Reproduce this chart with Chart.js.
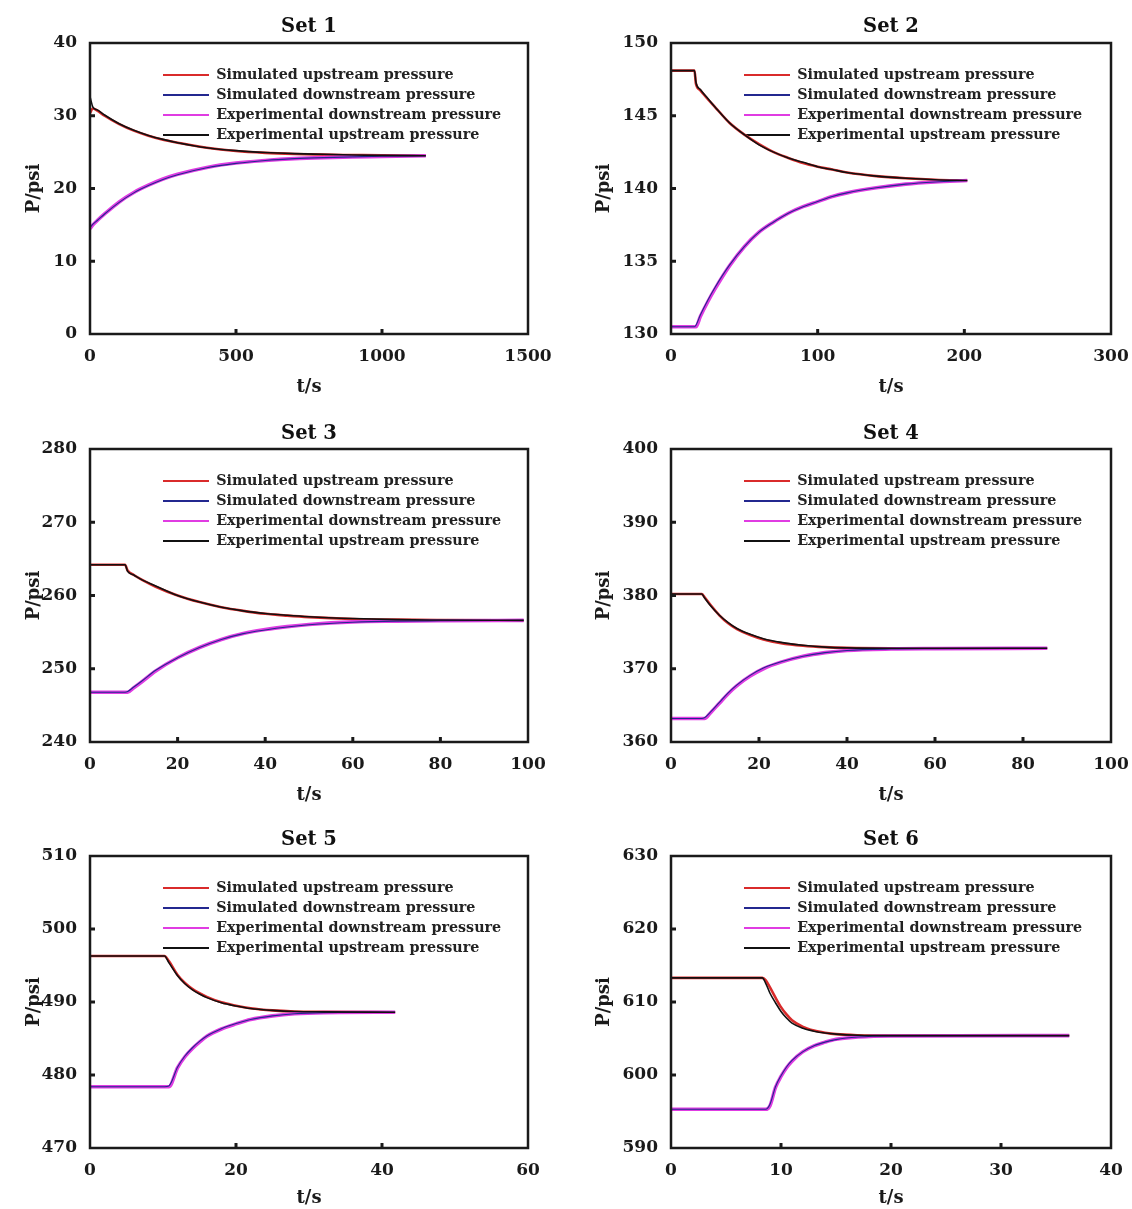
<!DOCTYPE html>
<html>
<head>
<meta charset="utf-8">
<script src="https://cdn.jsdelivr.net/npm/chart.js@4.4.1/dist/chart.umd.min.js"></script>
<style>
    html, body { margin: 0; padding: 0; background: #fff; overflow: hidden; }
    #page { position: relative; width: 1132px; height: 1209px; overflow: hidden; }
    .panel { position: absolute; }
</style>
</head>
<body>
<div id="page"></div>
<script>
// series names (legend order)
const seriesLabels = [
    'Simulated upstream pressure',
    'Simulated downstream pressure',
    'Experimental downstream pressure',
    'Experimental upstream pressure'
];

// Set 1
const set1Time     = [0, 10, 25, 50, 100, 150, 200, 250, 300, 400, 500, 600, 700, 800, 900, 1000, 1150];
const set1SimUp    = [30.4, 31.0, 30.7, 30.0, 28.85, 27.95, 27.25, 26.7, 26.3, 25.6, 25.15, 24.9, 24.75, 24.65, 24.6, 24.55, 24.5];
const set1SimDown  = [14.6, 15.1, 15.6, 16.5, 18.1, 19.4, 20.4, 21.25, 21.9, 22.85, 23.45, 23.85, 24.1, 24.25, 24.35, 24.45, 24.5];
const set1ExpDown  = [14.5, 15.0, 15.6, 16.5, 18.15, 19.45, 20.45, 21.3, 21.95, 22.9, 23.5, 23.85, 24.1, 24.25, 24.35, 24.4, 24.5];
const set1ExpUp    = [32.6, 31.2, 30.8, 30.1, 28.9, 28.0, 27.3, 26.75, 26.3, 25.6, 25.2, 24.95, 24.8, 24.7, 24.6, 24.55, 24.5];
const set1XTicks   = [0, 500, 1000, 1500];
const set1YTicks   = [0, 10, 20, 30, 40];

// Set 2
const set2Time     = [0, 16, 17, 20, 25, 30, 40, 50, 60, 70, 80, 90, 100, 110, 120, 140, 160, 180, 202];
const set2SimUp    = [148.1, 148.1, 147.2, 146.75, 146.15, 145.6, 144.5, 143.7, 143.05, 142.5, 142.1, 141.75, 141.5, 141.3, 141.1, 140.85, 140.7, 140.6, 140.55];
const set2SimDown  = [130.5, 130.5, 130.6, 131.3, 132.3, 133.2, 134.75, 136.0, 137.0, 137.7, 138.3, 138.75, 139.1, 139.45, 139.7, 140.05, 140.3, 140.45, 140.55];
const set2ExpDown  = [130.5, 130.5, 130.5, 131.2, 132.2, 133.1, 134.7, 136.0, 137.0, 137.7, 138.3, 138.75, 139.1, 139.45, 139.7, 140.05, 140.3, 140.45, 140.55];
const set2ExpUp    = [148.1, 148.1, 147.3, 146.8, 146.2, 145.6, 144.5, 143.7, 143.0, 142.5, 142.1, 141.8, 141.5, 141.3, 141.1, 140.85, 140.7, 140.6, 140.55];
const set2XTicks   = [0, 100, 200, 300];
const set2YTicks   = [130, 135, 140, 145, 150];

// Set 3
const set3Time     = [0, 8, 8.6, 10, 12, 15, 20, 25, 30, 35, 40, 45, 50, 60, 70, 80, 99];
const set3SimUp    = [264.2, 264.2, 263.4, 262.8, 262.1, 261.2, 260.0, 259.1, 258.4, 257.9, 257.5, 257.25, 257.05, 256.8, 256.7, 256.65, 256.6];
const set3SimDown  = [246.8, 246.8, 246.9, 247.5, 248.4, 249.8, 251.5, 252.9, 254.0, 254.8, 255.3, 255.7, 256.0, 256.35, 256.5, 256.55, 256.6];
const set3ExpDown  = [246.8, 246.8, 246.8, 247.4, 248.3, 249.7, 251.5, 252.9, 254.0, 254.8, 255.35, 255.75, 256.05, 256.4, 256.5, 256.55, 256.6];
const set3ExpUp    = [264.2, 264.2, 263.3, 262.8, 262.1, 261.3, 260.0, 259.1, 258.4, 257.9, 257.55, 257.3, 257.1, 256.85, 256.7, 256.65, 256.6];
const set3XTicks   = [0, 20, 40, 60, 80, 100];
const set3YTicks   = [240, 250, 260, 270, 280];

// Set 4
const set4Time     = [0, 7, 7.6, 9, 11, 13, 15, 18, 21, 25, 30, 35, 40, 50, 60, 85.5];
const set4SimUp    = [380.2, 380.2, 379.8, 378.7, 377.3, 376.2, 375.4, 374.6, 374.0, 373.5, 373.15, 372.95, 372.85, 372.8, 372.8, 372.8];
const set4SimDown  = [363.2, 363.2, 363.3, 364.1, 365.4, 366.7, 367.8, 369.1, 370.1, 370.95, 371.7, 372.2, 372.5, 372.7, 372.75, 372.8];
const set4ExpDown  = [363.2, 363.2, 363.2, 364.0, 365.3, 366.6, 367.7, 369.0, 370.0, 370.9, 371.7, 372.2, 372.5, 372.7, 372.75, 372.8];
const set4ExpUp    = [380.2, 380.2, 379.7, 378.6, 377.3, 376.3, 375.5, 374.7, 374.1, 373.6, 373.2, 372.95, 372.85, 372.8, 372.8, 372.8];
const set4XTicks   = [0, 20, 40, 60, 80, 100];
const set4YTicks   = [360, 370, 380, 390, 400];

// Set 5
const set5Time     = [0, 10.2, 10.8, 12, 13, 14, 15, 16, 18, 20, 22, 25, 28, 32, 41.8];
const set5SimUp    = [496.3, 496.3, 495.6, 493.7, 492.6, 491.8, 491.2, 490.7, 489.95, 489.5, 489.15, 488.85, 488.7, 488.65, 488.6];
const set5SimDown  = [478.4, 478.4, 478.5, 481.1, 482.6, 483.7, 484.6, 485.35, 486.35, 487.05, 487.6, 488.1, 488.4, 488.55, 488.6];
const set5ExpDown  = [478.4, 478.4, 478.4, 481.0, 482.5, 483.6, 484.5, 485.3, 486.3, 487.0, 487.6, 488.1, 488.4, 488.55, 488.6];
const set5ExpUp    = [496.3, 496.3, 495.4, 493.6, 492.5, 491.7, 491.1, 490.6, 489.9, 489.45, 489.1, 488.85, 488.7, 488.65, 488.6];
const set5XTicks   = [0, 20, 40, 60];
const set5YTicks   = [470, 480, 490, 500, 510];

// Set 6
const set6Time     = [0, 8.3, 8.6, 9, 9.5, 10, 10.5, 11, 12, 13, 14, 15, 17, 20, 36.2];
const set6SimUp    = [613.3, 613.3, 613.0, 612.0, 610.6, 609.3, 608.3, 607.5, 606.6, 606.1, 605.8, 605.6, 605.45, 605.4, 605.4];
const set6SimDown  = [595.3, 595.3, 595.3, 596.0, 598.4, 599.9, 601.1, 602.0, 603.2, 604.0, 604.5, 604.85, 605.2, 605.35, 605.4];
const set6ExpDown  = [595.3, 595.3, 595.3, 595.8, 598.3, 599.8, 601.0, 601.9, 603.2, 604.0, 604.5, 604.9, 605.2, 605.35, 605.4];
const set6ExpUp    = [613.3, 613.3, 612.6, 611.2, 609.9, 608.7, 607.8, 607.1, 606.4, 606.0, 605.75, 605.6, 605.45, 605.4, 605.4];
const set6XTicks   = [0, 10, 20, 30, 40];
const set6YTicks   = [590, 600, 610, 620, 630];

// styles per series: red, blue, magenta, black
const seriesColors = ['#d92b2b', '#23288f', '#e03ce2', '#111111'];
const seriesWidths = [2.6, 1.1, 3.6, 1.6];
const seriesOrder  = [3, 1, 2, 0];   // black and blue are drawn on top

// page layout (pixels); yTitleX is measured from the canvas left edge
const PANEL_W = 620;
const X_AXIS_H = 66;
const columns = [
    { canvasX: 0,   plotLeft: 90,  plotRight: 528,  yTitleX: 34 },
    { canvasX: 566, plotLeft: 671, plotRight: 1111, yTitleX: 38 }
];
const rows = [
    { titleY: 27,  plotTop: 43,  plotBottom: 334,  xTitleY: 387 },
    { titleY: 434, plotTop: 449, plotBottom: 742,  xTitleY: 795 },
    { titleY: 840, plotTop: 856, plotBottom: 1148, xTitleY: 1198 }
];

const FONT = "'DejaVu Serif', 'Liberation Serif', serif";
const TITLE_SIZE = 19.5, AXIS_TITLE_SIZE = 18, TICK_SIZE = 17, LEGEND_SIZE = 14.3;
const LEGEND_PAD = 20 - LEGEND_SIZE;

document.addEventListener('DOMContentLoaded', function() {
    Chart.defaults.font.family = FONT;
    Chart.defaults.font.weight = 'bold';
    Chart.defaults.color = '#1a1a1a';

    const sets = [
        { title: 'Set 1', time: set1Time, values: [set1SimUp, set1SimDown, set1ExpDown, set1ExpUp], xTicks: set1XTicks, yTicks: set1YTicks },
        { title: 'Set 2', time: set2Time, values: [set2SimUp, set2SimDown, set2ExpDown, set2ExpUp], xTicks: set2XTicks, yTicks: set2YTicks },
        { title: 'Set 3', time: set3Time, values: [set3SimUp, set3SimDown, set3ExpDown, set3ExpUp], xTicks: set3XTicks, yTicks: set3YTicks },
        { title: 'Set 4', time: set4Time, values: [set4SimUp, set4SimDown, set4ExpDown, set4ExpUp], xTicks: set4XTicks, yTicks: set4YTicks },
        { title: 'Set 5', time: set5Time, values: [set5SimUp, set5SimDown, set5ExpDown, set5ExpUp], xTicks: set5XTicks, yTicks: set5YTicks },
        { title: 'Set 6', time: set6Time, values: [set6SimUp, set6SimDown, set6ExpDown, set6ExpUp], xTicks: set6XTicks, yTicks: set6YTicks }
    ];

    sets.forEach((set, i) => createPanel(set, columns[i % 2], rows[Math.floor(i / 2)]));
});

// moves the chartArea legend to where the reference has it
const legendPlacer = {
    id: 'legendPlacer',
    afterLayout(chart) {
        const lg = chart.legend;
        const ca = chart.chartArea;
        lg.left = ca.left + 73 - LEGEND_PAD;
        lg.top = ca.top + 32 - LEGEND_PAD - LEGEND_SIZE / 2;
        lg.right = ca.right;
        lg.bottom = ca.bottom;
    }
};

// box around the plot and small inward ticks
const framePlugin = {
    id: 'frame',
    afterDatasetsDraw(chart) {
        const { ctx, chartArea: ca, scales } = chart;
        ctx.save();
        ctx.strokeStyle = '#1a1a1a';
        ctx.lineWidth = 2.5;
        ctx.strokeRect(ca.left, ca.top, ca.right - ca.left, ca.bottom - ca.top);
        ctx.lineWidth = 3;
        scales.x.ticks.slice(1, -1).forEach(t => {
            const px = scales.x.getPixelForValue(t.value);
            ctx.beginPath();
            ctx.moveTo(px, ca.bottom);
            ctx.lineTo(px, ca.bottom - 5);
            ctx.stroke();
        });
        scales.y.ticks.slice(1, -1).forEach(t => {
            const py = scales.y.getPixelForValue(t.value);
            ctx.beginPath();
            ctx.moveTo(ca.left, py);
            ctx.lineTo(ca.left + 5, py);
            ctx.stroke();
        });
        ctx.restore();
    }
};

function createPanel(set, col, row) {
    const top = row.titleY - 27;
    const height = row.plotBottom + X_AXIS_H - top;
    const titleLine = TITLE_SIZE * 1.2;
    const titlePadTop = 27 - titleLine / 2;
    const titlePadBottom = (row.plotTop - top) - titlePadTop - titleLine;
    const axisLine = AXIS_TITLE_SIZE * 1.2;
    const xTitlePad = (row.plotBottom + X_AXIS_H - row.xTitleY) - axisLine / 2;
    const yTitlePad = col.yTitleX - axisLine / 2;

    const holder = document.createElement('div');
    holder.className = 'panel';
    holder.style.left = col.canvasX + 'px';
    holder.style.top = top + 'px';
    const canvas = document.createElement('canvas');
    canvas.width = PANEL_W;
    canvas.height = height;
    holder.appendChild(canvas);
    document.getElementById('page').appendChild(holder);

    const datasets = seriesLabels.map((label, k) => ({
        label: label,
        data: set.time.map((t, j) => ({ x: t, y: set.values[k][j] })),
        borderColor: seriesColors[k],
        backgroundColor: seriesColors[k],
        borderWidth: seriesWidths[k],
        order: seriesOrder[k],
        pointRadius: 0,
        fill: false,
        cubicInterpolationMode: 'monotone'
    }));

    new Chart(canvas.getContext('2d'), {
        type: 'line',
        data: { datasets: datasets },
        plugins: [legendPlacer, framePlugin],
        options: {
            responsive: false,
            animation: false,
            devicePixelRatio: 1,
            layout: {
                padding: { left: 0, top: 0, bottom: 0, right: col.canvasX + PANEL_W - col.plotRight }
            },
            plugins: {
                tooltip: { enabled: false },
                title: {
                    display: true,
                    fullSize: false,
                    text: set.title,
                    color: '#111',
                    font: { size: TITLE_SIZE, weight: 'bold' },
                    padding: { top: titlePadTop, bottom: titlePadBottom }
                },
                legend: {
                    position: 'chartArea',
                    align: 'start',
                    labels: {
                        usePointStyle: true,
                        pointStyle: 'line',
                        pointStyleWidth: 46,
                        boxHeight: LEGEND_SIZE,
                        padding: LEGEND_PAD,
                        color: '#222',
                        font: { size: LEGEND_SIZE, weight: 'bold' },
                        sort: (a, b) => a.datasetIndex - b.datasetIndex,
                        generateLabels: function(chart) {
                            const items = Chart.defaults.plugins.legend.labels.generateLabels(chart);
                            items.forEach(item => {
                                item.strokeStyle = seriesColors[item.datasetIndex];
                                item.lineWidth = 1.8;
                            });
                            return items;
                        }
                    }
                }
            },
            scales: {
                x: {
                    type: 'linear',
                    min: set.xTicks[0],
                    max: set.xTicks[set.xTicks.length - 1],
                    afterBuildTicks: scale => { scale.ticks = set.xTicks.map(v => ({ value: v })); },
                    afterFit: scale => { scale.height = X_AXIS_H; },
                    grid: { display: false, drawTicks: false },
                    border: { display: false },
                    ticks: {
                        padding: 12,
                        maxRotation: 0,
                        color: '#1a1a1a',
                        font: { size: TICK_SIZE, weight: 'bold' },
                        callback: value => String(value)
                    },
                    title: {
                        display: true,
                        text: 't/s',
                        color: '#1a1a1a',
                        font: { size: AXIS_TITLE_SIZE, weight: 'bold' },
                        padding: { top: 0, bottom: xTitlePad }
                    }
                },
                y: {
                    type: 'linear',
                    min: set.yTicks[0],
                    max: set.yTicks[set.yTicks.length - 1],
                    afterBuildTicks: scale => { scale.ticks = set.yTicks.map(v => ({ value: v })); },
                    afterFit: scale => { scale.width = col.plotLeft - col.canvasX; },
                    grid: { display: false, drawTicks: false },
                    border: { display: false },
                    ticks: {
                        padding: 13,
                        color: '#1a1a1a',
                        font: { size: TICK_SIZE, weight: 'bold' },
                        callback: value => String(value)
                    },
                    title: {
                        display: true,
                        text: 'P/psi',
                        color: '#1a1a1a',
                        font: { size: AXIS_TITLE_SIZE, weight: 'bold' },
                        padding: { top: yTitlePad, bottom: 0 }
                    }
                }
            }
        }
    });
}
</script>
</body>
</html>
